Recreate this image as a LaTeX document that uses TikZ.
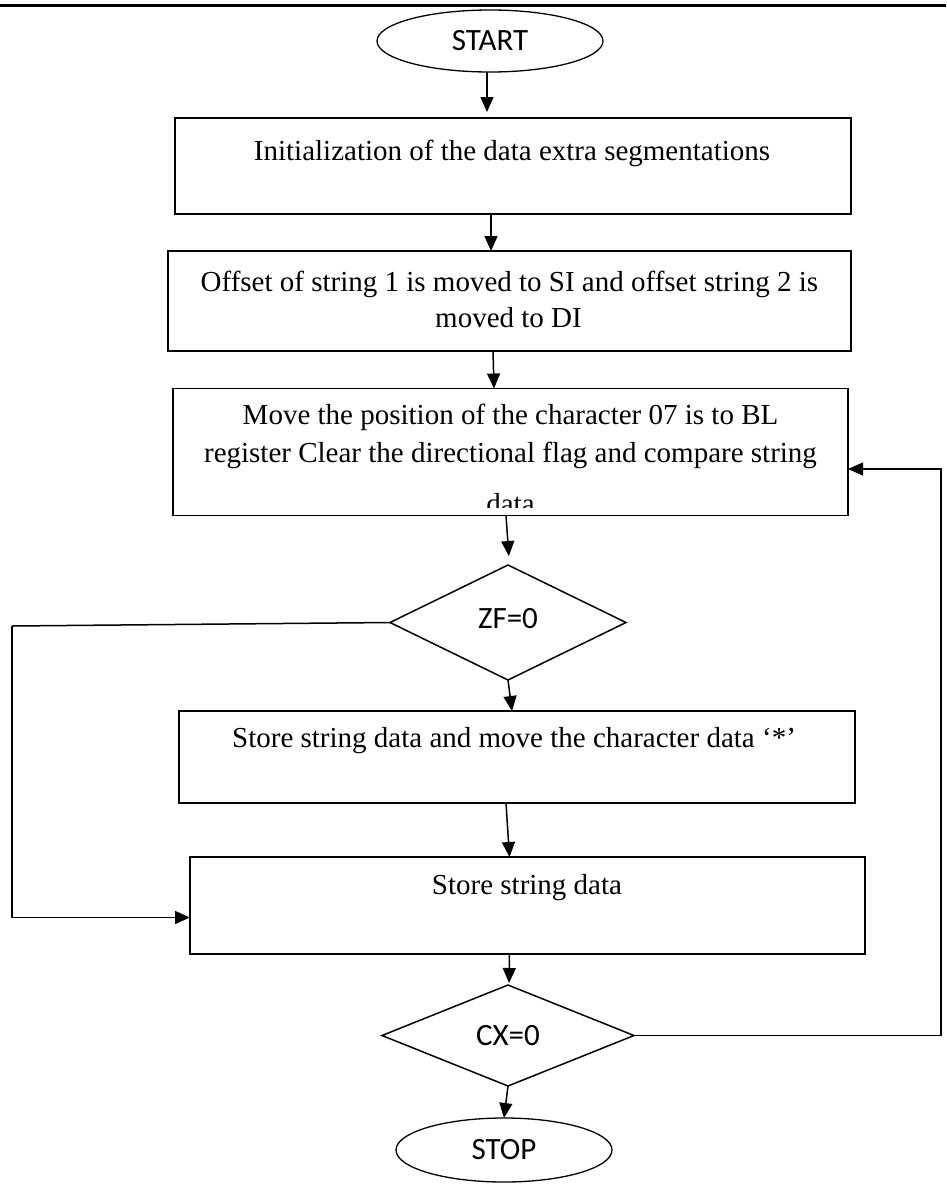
\documentclass[tikz,border=0pt]{standalone}
\usepackage{fontspec}
\setmainfont{Liberation Serif}
\newfontfamily\calibri{Carlito}
\usetikzlibrary{shapes.geometric,arrows.meta}
\begin{document}
\begin{tikzpicture}[x=1pt,y=-1pt,
  every node/.style={inner sep=0pt, outer sep=0pt},
  stepbox/.style={draw, line width=1.5pt, rectangle},
  term/.style={draw, line width=1.3pt, ellipse, font=\calibri\fontsize{31}{33}\selectfont},
  decision/.style={draw, line width=1.5pt, diamond, font=\calibri\fontsize{31}{33}\selectfont},
  txt/.style={anchor=base, font=\fontsize{29}{33}\selectfont},
  arr/.style={line width=1.5pt, -{Triangle[length=15pt,width=13pt]}},
  link/.style={line width=1.5pt}
]
\useasboundingbox (0,0) rectangle (946,1184);

% rule across the top of the page
\coordinate (ruleL) at (0,5);
\coordinate (ruleR) at (946,5);
\draw[line width=3pt] (ruleL) -- (ruleR);

% terminals
\node[term, minimum width=226pt, minimum height=62pt] (start) at (490,41) {START};
\node[term, minimum width=216pt, minimum height=64pt] (stop) at (504,1150) {STOP};

% process boxes
\node[stepbox, minimum width=676pt, minimum height=96pt]  (b1) at (513,166)   {};
\node[stepbox, minimum width=683pt, minimum height=100pt] (b2) at (509.5,301) {};
\node[stepbox, minimum width=675pt, minimum height=127pt] (b3) at (510.5,452) {};
\node[stepbox, minimum width=676pt, minimum height=92pt]  (b4) at (517,757)   {};
\node[stepbox, minimum width=675pt, minimum height=97pt]  (b5) at (527.5,905.5) {};

% decisions
\node[decision, minimum width=236pt, minimum height=115pt, text depth=9pt] (zf) at (508,622.5) {ZF=0};
\node[decision, minimum width=252pt, minimum height=101pt] (cx) at (508,1035.5) {CX=0};

% box texts
\node[txt] (t1)  at (512,160)   {Initialization of the data extra segmentations};
\node[txt] (t2a) at (509.5,291) {Offset of string 1 is moved to SI and offset string 2 is};
\node[txt] (t2b) at (508.5,327) {moved to DI};
\node[txt] (t3a) at (510.5,424) {Move the position of the character 07 is to BL};
\node[txt] (t3b) at (510.5,462) {register Clear the directional flag and compare string};
\begin{scope}
  \clip (173,389) rectangle (848,507);
  \node[txt] (t3c) at (510.5,513) {data};
\end{scope}
\node[txt] (t4) at (514,747)   {Store string data and move the character data ‘*’};
\node[txt] (t5) at (527,894)   {Store string data};

% main flow
\draw[arr, shorten >=6pt] ([xshift=-3pt]start.south) -- ([xshift=-26pt]b1.north);
\draw[arr] ([xshift=-22pt]b1.south) -- ([xshift=-18.5pt]b2.north);
\draw[arr] ([xshift=-16.5pt]b2.south) -- ([xshift=-16.5pt]b3.north);
\draw[arr, shorten >=9pt] ([xshift=-4.5pt]b3.south) -- ([xshift=1.5pt]zf.north);
\draw[arr] (zf.south) -- ([xshift=-5pt]b4.north);
\draw[arr] ([xshift=-11pt]b4.south) -- ([xshift=-18pt]b5.north);
\draw[arr, shorten >=2pt] ([xshift=-18pt]b5.south) -- ([xshift=1pt]cx.north);
\draw[arr] (cx.south) -- (stop.north);

% bypass on the left
\coordinate (lft) at (12,626);
\draw[link] (zf.west) -- (lft);
\draw[arr] (lft) |- ([yshift=-12pt]b5.west);

% loop back on the right
\coordinate (rgt) at (941,1035.5);
\draw[link] (cx.east) -- (rgt);
\draw[arr] (rgt) |- ([yshift=-17pt]b3.east);
\end{tikzpicture}
\end{document}
